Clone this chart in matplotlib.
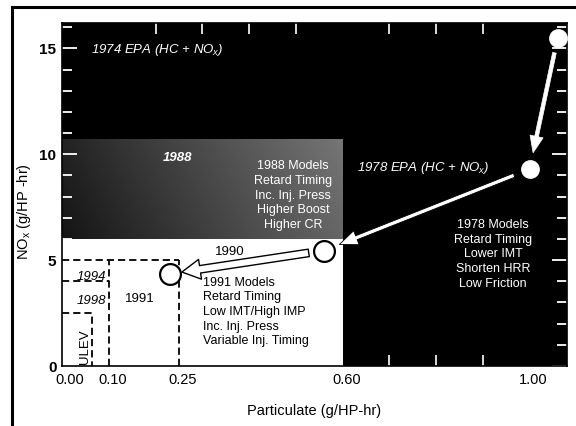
import matplotlib
matplotlib.use('Agg')
import matplotlib.pyplot as plt
import matplotlib.transforms as mtransforms
import numpy as np
from matplotlib.patches import Rectangle
from matplotlib.lines import Line2D

plt.rcParams['font.family'] = ['Liberation Sans', 'DejaVu Sans']
plt.rcParams['mathtext.fontset'] = 'custom'
plt.rcParams['mathtext.rm'] = 'Liberation Sans'
plt.rcParams['mathtext.it'] = 'Liberation Sans:italic'
plt.rcParams['mathtext.bf'] = 'Liberation Sans:bold'

# ---------------- data ----------------
x_ticks = [0.00, 0.10, 0.25, 0.60, 1.00]
x_tick_labels = ['0.00', '0.10', '0.25', '0.60', '1.00']
y_ticks = [0, 5, 10, 15]
y_tick_labels = ['0', '5', '10', '15']

# emission standards (particulate, NOx)
std_1988 = (0.60, 10.7)
std_1990 = (0.60, 6.0)
std_1991 = (0.25, 5.0)
std_1994 = (0.10, 5.0)
std_1998 = (0.10, 4.0)
std_ulev = (0.065, 2.5)

# engine model points
pt_names = ['1974', '1978', '1990', '1991']
pt_pm = [1.06, 1.00, 0.56, 0.23]
pt_nox = [15.5, 9.3, 5.45, 4.35]
pt_filled = [True, True, False, False]

notes_1988 = ['1988 Models', 'Retard Timing', 'Inc. Inj. Press', 'Higher Boost', 'Higher CR']
notes_1978 = ['1978 Models', 'Retard Timing', 'Lower IMT', 'Shorten HRR', 'Low Friction']
notes_1991 = ['1991 Models', 'Retard Timing', 'Low IMT/High IMP', 'Inc. Inj. Press', 'Variable Inj. Timing']

# ---------------- figure ----------------
W, H = 576, 426
fig = plt.figure(figsize=(W / 100, H / 100), dpi=100)
fig.patch.set_facecolor('white')
ax = fig.add_axes([62 / W, 1 - 366 / H, (567 - 62) / W, (366 - 23) / H])
ax.set_facecolor('black')
ax.set_xlim(0, 1.08)
ax.set_ylim(0, 16.2)

# 1988 stippled region (gradient, darker on the left)
gx = np.linspace(0.08, 0.40, 200)
gy = np.linspace(0.06, 0.0, 60)
grad = gy[:, None] + gx[None, :]
ax.imshow(grad, cmap='gray', vmin=0, vmax=1, aspect='auto',
          extent=[0, std_1988[0], std_1990[1], std_1988[1]], origin='upper',
          zorder=1, interpolation='bilinear')
# 1990 white region
ax.add_patch(Rectangle((0, 0), std_1990[0], std_1990[1], facecolor='white',
                       edgecolor='none', zorder=2))

dash = dict(color='black', lw=1.3, ls=(0, (4, 2.2)), zorder=3)
ax.plot([0, std_1991[0]], [std_1991[1], std_1991[1]], **dash)
ax.plot([std_1991[0], std_1991[0]], [0, std_1991[1]], **dash)
ax.plot([std_1994[0], std_1994[0]], [0, std_1994[1]], **dash)
ax.plot([0, std_1998[0]], [std_1998[1], std_1998[1]], **dash)
ax.plot([0, std_ulev[0], std_ulev[0]], [std_ulev[1], std_ulev[1], 0], **dash)

# arrows between model points
def arrow(i, j, fc, ec, style, shrinkA, shrinkB, lw=0.8):
    ax.annotate('', xy=(pt_pm[j], pt_nox[j]), xytext=(pt_pm[i], pt_nox[i]),
                arrowprops=dict(arrowstyle=style, fc=fc, ec=ec, lw=lw,
                                shrinkA=shrinkA, shrinkB=shrinkB, mutation_scale=12),
                zorder=5)

arrow(0, 1, 'white', 'white', 'simple,head_length=1.0,head_width=0.8,tail_width=0.22', 11, 12, lw=0.5)
arrow(1, 2, 'white', 'black', 'simple,head_length=1.1,head_width=0.9,tail_width=0.25', 12, 12, lw=0.6)
arrow(2, 3, 'white', 'black', 'simple,head_length=1.1,head_width=1.2,tail_width=0.45', 11, 9, lw=1.0)

# points
for x, y, f in zip(pt_pm, pt_nox, pt_filled):
    if f:
        ax.plot(x, y, 'o', ms=12.5, mfc='white', mec='white', zorder=6, clip_on=False)
    else:
        ax.plot(x, y, 'o', ms=15, mfc='white', mec='black', mew=1.6, zorder=6)

# texts
ax.text(0.062, 14.93, '1974 EPA (HC + NO$_x$)', color='white', style='italic',
        fontsize=9.5, va='center', ha='left', zorder=7)
ax.text(0.631, 9.35, '1978 EPA (HC + NO$_x$)', color='white', style='italic',
        fontsize=9.5, va='center', ha='left', zorder=7)
ax.text(0.248, 9.83, '1988', color='white', style='italic', weight='bold',
        fontsize=9.5, va='center', ha='center', zorder=7)
ax.text(0.494, 8.05, '\n'.join(notes_1988), color='white', fontsize=9,
        ha='center', va='center', linespacing=1.3, zorder=7)
ax.text(0.922, 5.27, '\n'.join(notes_1978), color='white', fontsize=9,
        ha='center', va='center', linespacing=1.3, zorder=7)
ax.text(0.302, 2.55, '\n'.join(notes_1991), color='black', fontsize=9,
        ha='left', va='center', linespacing=1.3, zorder=7)
ax.text(0.359, 5.38, '1990', color='black', fontsize=9.5, ha='center', va='center', zorder=7)
ax.text(0.062, 4.2, '1994', color='black', style='italic', fontsize=9.5,
        ha='center', va='center', zorder=7)
ax.text(0.062, 3.07, '1998', color='black', style='italic', fontsize=9.5,
        ha='center', va='center', zorder=7)
ax.text(0.167, 3.16, '1991', color='black', fontsize=9.5, ha='center', va='center', zorder=7)
ax.text(0.049, 0.9, 'ULEV', color='black', fontsize=9.5, rotation=90,
        ha='center', va='center', zorder=7)

# ticks
ax.set_xticks(x_ticks)
ax.set_xticklabels(x_tick_labels, fontsize=10.5)
ax.set_xticks(np.arange(0.1, 1.01, 0.1), minor=True)
ax.set_yticks(y_ticks)
ax.set_yticklabels(y_tick_labels, fontsize=11, fontweight='bold')
ax.set_yticks(np.arange(1, 16.1, 1), minor=True)
ax.tick_params(axis='x', which='major', length=0, pad=5)
ax.tick_params(axis='x', which='minor', direction='in', length=8, width=1.2,
               color='white', top=True, bottom=True)
ax.tick_params(axis='y', which='major', direction='in', length=11, width=1.3,
               color='white', left=True, right=True, pad=4)
ax.tick_params(axis='y', which='minor', direction='in', length=7, width=1.3,
               color='white', left=True, right=True)
for s in ax.spines.values():
    s.set_color('black')
    s.set_linewidth(1.2)

# x tick labels sit a little right of their ticks in the original
for k, lab in enumerate(ax.get_xticklabels()):
    dx = 8 if k == 0 else 4
    lab.set_transform(lab.get_transform() +
                      mtransforms.ScaledTranslation(dx / 100, 0, fig.dpi_scale_trans))

ax.set_xlabel('Particulate (g/HP-hr)', fontsize=10.5, labelpad=12)
ax.set_ylabel('NO$_\\mathregular{x}$ (g/HP -hr)', fontsize=10.5)
ax.yaxis.set_label_coords(-0.058, 0.45)

# page frame
fig.add_artist(Line2D([12 / W, 12 / W], [0, 1 - 7 / H], color='black', lw=2.2))
fig.add_artist(Line2D([12 / W, 1], [1 - 7 / H, 1 - 7 / H], color='black', lw=2.2))

fig.savefig('out.png', dpi=100, facecolor='white')
